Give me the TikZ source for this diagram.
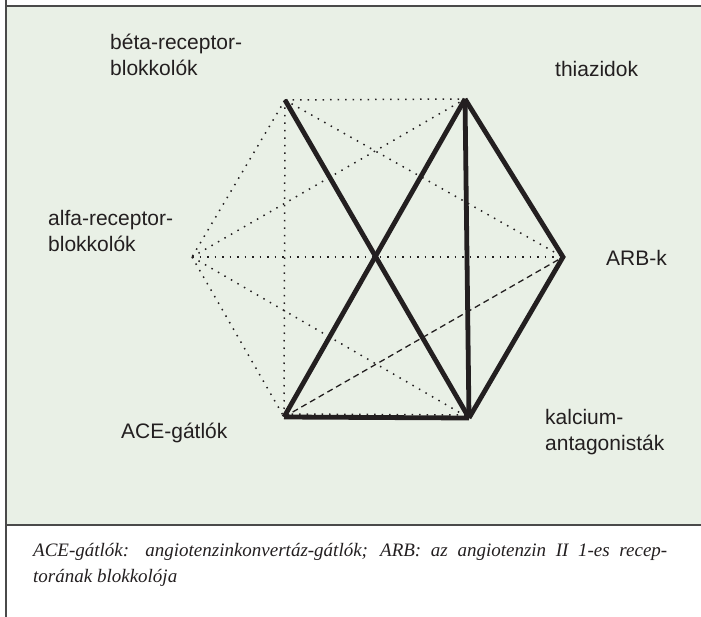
\documentclass[tikz,border=0pt]{standalone}
\usepackage{fontspec}
\newfontfamily\labfont{Liberation Sans}
\newfontfamily\capfont{Liberation Serif}
\definecolor{panelgreen}{HTML}{E9F0E6}
\definecolor{ink}{HTML}{231F20}
\definecolor{rulegray}{HTML}{4A4A4A}
\begin{document}
\begin{tikzpicture}[x=1pt,y=-1pt,
  thickedge/.style={draw=ink,line width=4.8pt,line cap=butt,line join=miter},
  dotedge/.style={draw=ink,line width=1.5pt,dash pattern=on 1.5pt off 6pt},
  dashedge/.style={draw=ink,line width=1.3pt,dash pattern=on 6pt off 4pt},
  lab/.style={font=\labfont\fontsize{21}{26}\selectfont,text=ink,inner sep=0pt,align=left,anchor=base west},
  captext/.style={text=ink,inner sep=0pt,anchor=base west}]
\useasboundingbox (0,0) rectangle (701,617);
\fill[white] (0,0) rectangle (701,617);
\fill[panelgreen] (6,6) rectangle (701,525);
\draw[rulegray,line width=1.4pt] (6,6) -- (701,6);
\draw[rulegray,line width=1.2pt] (6,525) -- (701,525);
\draw[rulegray,line width=1.2pt] (6,0) -- (6,617);
% vertices
\coordinate (beta) at (285,100);
\coordinate (thia) at (465,99);
\coordinate (alfa) at (192,257);
\coordinate (arb) at (563,257);
\coordinate (ace) at (284,417);
\coordinate (kalc) at (469,418);
% dotted
\draw[dotedge] (beta) -- (thia);
\draw[dotedge] (beta) -- (alfa);
\draw[dotedge] (beta) -- (arb);
\draw[dotedge] (beta) -- (ace);
\draw[dotedge] (alfa) -- (thia);
\draw[dotedge] (alfa) -- (arb);
\draw[dotedge] (alfa) -- (ace);
\draw[dotedge] (alfa) -- (kalc);
\draw[dotedge] ([yshift=3pt]ace) -- ([yshift=3pt]kalc);
% dashed
\draw[dashedge] (ace) -- (arb);
% thick
\draw[thickedge] (beta) -- (kalc);
\draw[thickedge] (ace) -- (thia);
\draw[thickedge] (thia) -- (kalc);
\draw[thickedge] (kalc) -- (ace);
\draw[thickedge] (thia) -- (arb) -- (kalc);
% labels
\node[lab] (lbeta) at (110,76) {béta-receptor-\\blokkolók};
\node[lab] (lthia) at (555,77) {thiazidok};
\node[lab] (lalfa) at (48,252) {alfa-receptor-\\blokkolók};
\node[lab] (larb) at (606,266) {ARB-k};
\node[lab] (lace) at (121,438) {ACE-gátlók};
\node[lab] (lkalc) at (545,450) {kalcium-\\antagonisták};
% caption
\node[captext] (cap) at (33,556) {\parbox[t]{634pt}{\capfont\itshape\fontsize{19}{26}\selectfont ACE-gátlók: angiotenzinkonvertáz-gátlók; ARB: az angiotenzin II 1-es recep-\linebreak tor\'anak blokkolója}};
\end{tikzpicture}
\end{document}
